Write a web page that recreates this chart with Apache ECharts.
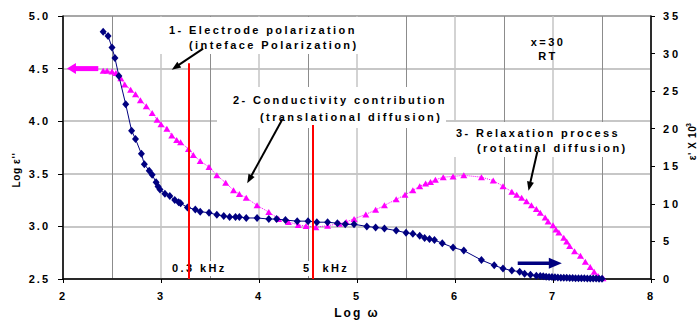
<!DOCTYPE html>
<html>
<head>
<meta charset="utf-8">
<script src="https://cdn.jsdelivr.net/npm/echarts@6/dist/echarts.min.js"></script>
<style>
  html, body { margin: 0; padding: 0; background: #fff; }
  #chart { width: 699px; height: 324px; }
  #chart text { white-space: pre; letter-spacing: 2px; }
</style>
</head>
<body>
<div id="chart"></div>
<script>
// Dielectric loss: log of angular frequency vs log ε'' (left axis)
const lossLogW = [2.41, 2.46, 2.50, 2.53, 2.57, 2.64, 2.70, 2.74, 2.80, 2.83,
  2.88, 2.91, 2.95, 2.97, 2.99, 3.04, 3.09, 3.14, 3.18, 3.20,
  3.27, 3.35, 3.40, 3.49, 3.57, 3.64, 3.70, 3.76, 3.80, 3.87,
  3.98, 4.10, 4.18, 4.27, 4.39, 4.50, 4.59, 4.70, 4.80, 4.88,
  4.97, 5.10, 5.19, 5.28, 5.40, 5.50, 5.57, 5.64, 5.69, 5.74,
  5.79, 5.87, 5.98, 6.09, 6.27, 6.40, 6.49, 6.58, 6.66, 6.71,
  6.77, 6.83, 6.87, 6.90, 6.93, 6.96, 6.99, 7.02, 7.05, 7.08,
  7.11, 7.14, 7.17, 7.20, 7.23, 7.26, 7.29, 7.32, 7.35, 7.38,
  7.41, 7.44, 7.47, 7.50];
const lossLogEps = [4.85, 4.81, 4.70, 4.60, 4.43, 4.16, 3.91, 3.83, 3.69, 3.59,
  3.53, 3.49, 3.42, 3.38, 3.35, 3.31, 3.29, 3.25, 3.23, 3.22,
  3.18, 3.16, 3.14, 3.13, 3.11, 3.10, 3.09, 3.09, 3.09, 3.08,
  3.08, 3.07, 3.07, 3.06, 3.05, 3.05, 3.04, 3.04, 3.03, 3.02,
  3.02, 3.00, 2.99, 2.98, 2.96, 2.94, 2.93, 2.91, 2.89, 2.88,
  2.87, 2.84, 2.80, 2.77, 2.68, 2.63, 2.60, 2.58, 2.57, 2.55,
  2.54, 2.53, 2.528, 2.525, 2.522, 2.520, 2.518, 2.516, 2.514, 2.513,
  2.512, 2.511, 2.510, 2.509, 2.508, 2.507, 2.506, 2.506, 2.505, 2.505,
  2.504, 2.504, 2.503, 2.503];

// Dielectric constant: log of angular frequency vs ε' x 10^3 (right axis)
const permLogW = [2.41, 2.45, 2.50, 2.54, 2.59, 2.63, 2.69, 2.74, 2.79, 2.85,
  2.91, 2.96, 3.00, 3.06, 3.11, 3.16, 3.20, 3.28, 3.33, 3.40,
  3.49, 3.57, 3.66, 3.74, 3.80, 3.87, 3.98, 4.10, 4.20, 4.30,
  4.40, 4.48, 4.58, 4.70, 4.82, 4.89, 4.97, 5.09, 5.19, 5.28,
  5.40, 5.49, 5.57, 5.64, 5.70, 5.75, 5.80, 5.88, 5.98, 6.09,
  6.27, 6.39, 6.49, 6.58, 6.63, 6.68, 6.73, 6.78, 6.83, 6.87,
  6.92, 6.95, 7.00, 7.03, 7.06, 7.11, 7.14, 7.17, 7.22, 7.28,
  7.33, 7.38, 7.42, 7.46, 7.51];
const permEps = [27.7, 27.7, 27.6, 27.4, 26.7, 25.9, 25.2, 24.6, 23.8, 23.0,
  22.1, 21.2, 20.6, 20.0, 19.1, 18.5, 18.2, 17.3, 16.5, 15.7,
  14.9, 13.8, 12.8, 11.8, 11.3, 10.8, 9.8, 8.9, 8.0, 7.6,
  7.2, 7.05, 6.9, 7.1, 7.35, 7.6, 8.0, 8.6, 9.2, 9.8,
  10.6, 11.2, 11.8, 12.35, 12.7, 12.9, 13.2, 13.55, 13.65, 13.8,
  13.55, 13.1, 12.35, 11.6, 11.2, 10.8, 10.35, 9.8, 9.3, 8.8,
  8.2, 7.65, 7.15, 6.6, 6.2, 5.5, 5.0, 4.4, 3.7, 3.1,
  2.3, 1.6, 0.95, 0.4, 0.1];

// Axis ranges and steps
const xRange = [2, 8], xStep = 1;
const leftRange = [2.5, 5.0], leftStep = 0.5;
const rightRange = [0, 35], rightStep = 5;

// Characteristic frequencies (log ω) and the height of their markers (log ε'')
const freqMarks = [3.28, 4.55];
const freqMarkTops = [4.55, 3.965];

const FONT = "'Liberation Sans', Arial, Helvetica, sans-serif";
const BLACK = '#000000', NAVY = '#000080', MAGENTA = '#ff00ff', RED = '#ff0000';

const chart = echarts.init(document.getElementById('chart'), null, { renderer: 'svg' });

const tickLabel = { fontFamily: FONT, fontSize: 11, fontWeight: 'bold', color: BLACK };

chart.setOption({
  animation: false,
  backgroundColor: '#ffffff',
  grid: { left: 63, right: 48, top: 16, bottom: 35, show: true, borderColor: BLACK, borderWidth: 1, backgroundColor: 'transparent' },
  xAxis: {
    type: 'value', min: xRange[0], max: xRange[1], interval: xStep,
    name: 'Log ω', nameLocation: 'middle', nameGap: 28,
    nameTextStyle: { fontFamily: FONT, fontSize: 12, fontWeight: 'bold', color: BLACK },
    axisLine: { show: true, onZero: false, lineStyle: { color: BLACK, width: 1.5 } },
    axisTick: { show: true, inside: false, length: 4, lineStyle: { color: BLACK, width: 1 } },
    axisLabel: Object.assign({ margin: 11 }, tickLabel),
    splitLine: { show: true, lineStyle: { color: '#c4c4c4', width: 1.5 } },
    minorTick: { show: false, splitNumber: 2 },
    minorSplitLine: { show: true, lineStyle: { color: '#8c8c8c', width: 1 } }
  },
  yAxis: [
    {
      type: 'value', position: 'left', min: leftRange[0], max: leftRange[1], interval: leftStep,
      axisLine: { show: true, onZero: false, lineStyle: { color: BLACK, width: 1.5 } },
      axisTick: { show: true, inside: false, length: 5, lineStyle: { color: BLACK, width: 1 } },
      axisLabel: Object.assign({ margin: 13, formatter: v => v.toFixed(1) }, tickLabel),
      splitLine: { show: true, lineStyle: { color: '#b4b4b4', width: 1.5 } }
    },
    {
      type: 'value', position: 'right', min: rightRange[0], max: rightRange[1], interval: rightStep,
      axisLine: { show: true, onZero: false, lineStyle: { color: BLACK, width: 1.5 } },
      axisTick: { show: true, inside: false, length: 4, lineStyle: { color: BLACK, width: 1 } },
      axisLabel: Object.assign({ margin: 12 }, tickLabel),
      splitLine: { show: false }
    }
  ],
  series: [
    {
      name: 'freq-markers', type: 'line', data: [], z: 1.5, silent: true,
      markLine: {
        silent: true, symbol: ['none', 'none'], label: { show: false }, animation: false,
        lineStyle: { color: RED, width: 2, type: 'solid' },
        data: freqMarks.map((f, i) => [{ coord: [f, leftRange[0]] }, { coord: [f, freqMarkTops[i]] }])
      }
    },
    {
      name: "ε'", type: 'line', yAxisIndex: 1, z: 2,
      data: permLogW.map((w, i) => [w, permEps[i]]),
      symbol: 'triangle', symbolSize: [7, 6],
      itemStyle: { color: MAGENTA },
      lineStyle: { color: MAGENTA, width: 1, type: 'dotted' }
    },
    {
      name: "Log ε''", type: 'line', yAxisIndex: 0, z: 3,
      data: lossLogW.map((w, i) => [w, lossLogEps[i]]),
      symbol: 'diamond', symbolSize: [7, 8],
      itemStyle: { color: NAVY },
      lineStyle: { color: NAVY, width: 1 }
    }
  ]
});

// Annotation boxes (white, hide the grid behind the text) and texts
const boxes = [
  [148, 17, 222, 37],
  [217, 87, 229, 41],
  [446, 122, 197, 35],
  [169, 261, 58, 15],
  [300, 261, 50, 15]
];
const notes = [
  { t: '1- Electrode polarization', x: 169, y: 30, a: 'left' },
  { t: '(inteface Polarization)', x: 189, y: 44.5, a: 'left' },
  { t: '2- Conductivity contribution', x: 233, y: 100, a: 'left' },
  { t: '(translational diffusion)', x: 260, y: 116.5, a: 'left' },
  { t: '3- Relaxation process', x: 456, y: 133, a: 'left' },
  { t: '(rotatinal diffusion)', x: 477, y: 148, a: 'left' },
  { t: 'x=30', x: 548, y: 42, a: 'center' },
  { t: 'RT', x: 548, y: 56, a: 'center' },
  { t: '0.3 kHz', x: 172, y: 268, a: 'left' },
  { t: '5  kHz', x: 303, y: 268, a: 'left' }
];

// Arrows given in (log ω, log ε'') coordinates
const arrows = [
  { from: [3.43, 4.69], to: [3.11, 4.49], color: BLACK, w: 2, hl: 9, hw: 7 },
  { from: [4.24, 4.02], to: [3.88, 3.41], color: BLACK, w: 2, hl: 9, hw: 7 },
  { from: [6.84, 3.71], to: [6.75, 3.34], color: BLACK, w: 2, hl: 9, hw: 7 },
  { from: [2.36, 4.50], to: [2.04, 4.50], color: MAGENTA, w: 5, hl: 9, hw: 11 },
  { from: [6.64, 2.65], to: [7.09, 2.65], color: NAVY, w: 3.5, hl: 13, hw: 11 }
];

function arrowShapes(a) {
  const p0 = chart.convertToPixel({ xAxisIndex: 0, yAxisIndex: 0 }, a.from);
  const p1 = chart.convertToPixel({ xAxisIndex: 0, yAxisIndex: 0 }, a.to);
  const dx = p1[0] - p0[0], dy = p1[1] - p0[1];
  const L = Math.hypot(dx, dy), ux = dx / L, uy = dy / L;
  const bx = p1[0] - ux * a.hl, by = p1[1] - uy * a.hl;
  const nx = -uy, ny = ux;
  return [
    { type: 'line', z: 5, silent: true,
      shape: { x1: p0[0], y1: p0[1], x2: bx + ux, y2: by + uy },
      style: { stroke: a.color, lineWidth: a.w } },
    { type: 'polygon', z: 5, silent: true,
      shape: { points: [[p1[0], p1[1]], [bx + nx * a.hw / 2, by + ny * a.hw / 2], [bx - nx * a.hw / 2, by - ny * a.hw / 2]] },
      style: { fill: a.color } }
  ];
}

const graphics = [];
boxes.forEach(b => graphics.push({
  type: 'rect', z: 1, silent: true,
  shape: { x: b[0], y: b[1], width: b[2], height: b[3] },
  style: { fill: '#ffffff' }
}));
notes.forEach(n => graphics.push({
  type: 'text', z: 1, z2: 10, silent: true, x: n.x, y: n.y,
  style: { text: n.t, fill: BLACK, font: "bold 11px " + FONT, textAlign: n.a, textVerticalAlign: 'middle' }
}));
arrows.forEach(a => arrowShapes(a).forEach(s => graphics.push(s)));

// Axis titles
graphics.push({
  type: 'text', z: 5, silent: true, x: 16, y: 170, rotation: Math.PI / 2,
  style: { text: "Log ε''", fill: BLACK, font: "bold 10px " + FONT, textAlign: 'center', textVerticalAlign: 'middle' }
});
graphics.push({
  type: 'text', z: 5, silent: true, x: 692.5, y: 143, rotation: Math.PI / 2,
  style: { text: "ε' X 10", fill: BLACK, font: "bold 10px " + FONT, textAlign: 'center', textVerticalAlign: 'middle' }
});
graphics.push({
  type: 'text', z: 5, silent: true, x: 688, y: 124, rotation: Math.PI / 2,
  style: { text: '3', fill: BLACK, font: "bold 7px " + FONT, textAlign: 'center', textVerticalAlign: 'middle' }
});

chart.setOption({ graphic: graphics });

const noteTexts = notes.map(n => n.t);
function spaceText() {
  document.querySelectorAll('#chart text').forEach(t => {
    const s = t.textContent;
    let sp = '2px';
    if (s.indexOf('ε') >= 0) sp = '0.6px';
    else if (noteTexts.indexOf(s) >= 0) sp = '2.4px';
    else if (/^\d\d$/.test(s)) sp = '3px';
    t.style.letterSpacing = sp;
  });
}
spaceText();
chart.on('finished', spaceText);
</script>
</body>
</html>
